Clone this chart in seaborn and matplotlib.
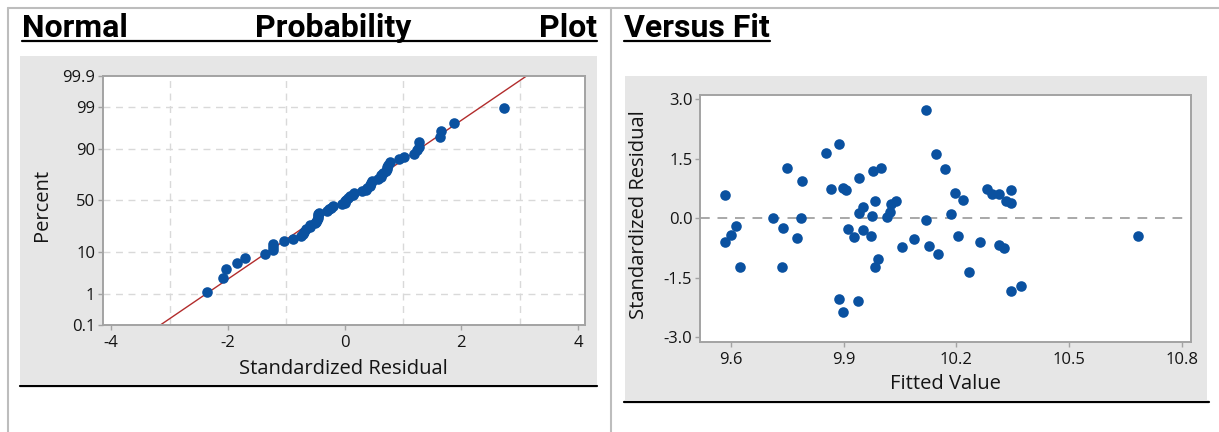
from statistics import NormalDist
import numpy as np
import pandas as pd
import matplotlib
matplotlib.use("Agg")
import matplotlib.pyplot as plt
from matplotlib.lines import Line2D
from matplotlib.patches import Rectangle
import seaborn as sns

fitted = [9.585, 9.585, 9.600, 9.615, 9.624, 9.711, 9.740, 9.750, 9.737, 9.775,
          9.788, 9.789, 9.854, 9.868, 9.888, 9.898, 9.907, 9.889, 9.898, 9.913,
          9.927, 9.939, 9.942, 9.942, 9.951, 9.951, 9.976, 9.974, 9.978, 10.001,
          9.985, 9.985, 9.992, 10.015, 10.024, 10.027, 10.039, 10.056, 10.088, 10.119,
          10.119, 10.127, 10.145, 10.152, 10.171, 10.185, 10.196, 10.204, 10.219, 10.234,
          10.263, 10.281, 10.296, 10.315, 10.314, 10.327, 10.333, 10.347, 10.347, 10.346,
          10.373, 10.685]
resid = [0.58, -0.60, -0.43, -0.19, -1.23, 0.00, -0.24, 1.28, -1.23, -0.49,
         0.00, 0.94, 1.65, 0.73, 1.87, 0.77, 0.72, -2.03, -2.36, -0.26,
         -0.47, -2.09, 1.02, 0.14, 0.29, -0.30, 0.05, -0.45, 1.19, 1.28,
         0.44, -1.23, -1.03, 0.03, 0.16, 0.37, 0.45, -0.71, -0.51, 2.74,
         -0.05, -0.70, 1.63, -0.89, 1.24, 0.10, 0.65, -0.45, 0.47, -1.36,
         -0.60, 0.74, 0.62, 0.62, -0.66, -0.74, 0.43, 0.71, 0.39, -1.84,
         -1.70, -0.45]

pct_ticks = [0.1, 1, 10, 50, 90, 99, 99.9]
pct_labels = ["0.1", "1", "10", "50", "90", "99", "99.9"]
x_ticks_left = [-4, -2, 0, 2, 4]
x_ticks_right = [9.6, 9.9, 10.2, 10.5, 10.8]
y_ticks_right = [-3.0, -1.5, 0.0, 1.5, 3.0]

W, H = 1219, 432
BLUE = "#0a51a0"
PANEL = "#e6e6e6"
SPINE = "#a3a3a3"
TICKC = "#141414"

sns.set_theme(style="white")
plt.rcParams["font.family"] = ["Open Sans", "DejaVu Sans"]
plt.rcParams["axes.unicode_minus"] = False

fig = plt.figure(figsize=(W / 100, H / 100), dpi=100)
fig.patch.set_facecolor("white")


def box(x0, y0, x1, y1):
    # pixel box (top-left origin) -> figure fraction rect
    return [x0 / W, 1 - y1 / H, (x1 - x0) / W, (y1 - y0) / H]


def hline(x0, x1, y, color, lw):
    fig.add_artist(Line2D([x0 / W, x1 / W], [1 - y / H, 1 - y / H],
                          transform=fig.transFigure, color=color, lw=lw))


def vline(x, y0, y1, color, lw):
    fig.add_artist(Line2D([x / W, x / W], [1 - y0 / H, 1 - y1 / H],
                          transform=fig.transFigure, color=color, lw=lw))


# table borders of the document
hline(8, W, 8, "#bdbdbd", 1.5)
vline(8, 8, H, "#bdbdbd", 1.5)
vline(611, 8, H, "#bdbdbd", 1.5)

# grey graph panels
for x0, y0, x1, y1 in [(20, 56, 597, 384), (625, 76, 1207, 400)]:
    fig.add_artist(Rectangle((x0 / W, 1 - y1 / H), (x1 - x0) / W, (y1 - y0) / H,
                             transform=fig.transFigure, facecolor=PANEL,
                             edgecolor="none", zorder=0))
hline(20, 597, 385.5, "black", 1.6)
hline(624, 1209, 402, "black", 1.6)

# headings
head = dict(fontsize=23, fontweight="bold", family="Roboto", color="black", va="baseline")
fig.text(22 / W, 1 - 37 / H, "Normal", ha="left", **head)
fig.text(333 / W, 1 - 37 / H, "Probability", ha="center", **head)
fig.text(597 / W, 1 - 37 / H, "Plot", ha="right", **head)
t_vf = fig.text(624 / W, 1 - 37 / H, "Versus Fit", ha="left", **head)
hline(22, 597, 41, "black", 1.6)

# ---- Normal probability plot ----
ax1 = fig.add_axes(box(103, 75.7, 585, 325))
ax1.set_facecolor("white")
nd = NormalDist()
df = pd.DataFrame({"resid": sorted(resid)})
n = len(df)
df["z"] = [nd.inv_cdf((i + 1 - 0.3) / (n + 0.4)) for i in range(n)]

mu, sd = float(np.mean(resid)), float(np.std(resid, ddof=1))
ax1.axline((mu, 0), slope=1 / sd, color="#b22c2c", lw=1.0, zorder=2)
sns.scatterplot(data=df, x="resid", y="z", ax=ax1, color=BLUE, s=58,
                linewidth=0, marker="o", zorder=3)

ax1.set_xlim(-4.14, 4.12)
ax1.set_ylim(nd.inv_cdf(0.001), nd.inv_cdf(0.999))
ax1.set_xticks(x_ticks_left)
ax1.set_xticks(range(-4, 5), minor=True)
z_ticks = [nd.inv_cdf(p / 100) for p in pct_ticks]
ax1.set_yticks(z_ticks)
ax1.set_yticklabels(pct_labels)
ax1.grid(True, which="minor", axis="x", ls=(0, (5, 4)), color="#d9d9d9", lw=1)
for zt in z_ticks[1:-1]:
    ax1.axhline(zt, ls=(0, (5, 4)), color="#d9d9d9", lw=1, zorder=1)
ax1.set_xlabel("Standardized Residual", fontsize=14.5, color=TICKC, va="center")
ax1.set_ylabel("Percent", fontsize=14.5, color=TICKC, va="center")
ax1.xaxis.set_label_coords((343 - 103) / 482, -(369 - 325) / 249.3)
ax1.yaxis.set_label_coords(-(103 - 42) / 482, (325 - 205) / 249.3)

# ---- Versus fits ----
ax2 = fig.add_axes(box(700, 95, 1191, 341.7))
ax2.set_facecolor("white")
ax2.axhline(0, ls=(0, (5, 4)), color="#a8a8a8", lw=1.4, zorder=1)
sns.scatterplot(x=fitted, y=resid, ax=ax2, color=BLUE, s=58, linewidth=0,
                marker="o", zorder=3)
ax2.set_xlim(9.518, 10.825)
ax2.set_ylim(-3.11, 3.11)
ax2.set_xticks(x_ticks_right)
ax2.set_xticklabels([f"{v:.1f}" for v in x_ticks_right])
ax2.set_yticks(y_ticks_right)
ax2.set_yticklabels([f"{v:.1f}" for v in y_ticks_right])
ax2.set_xlabel("Fitted Value", fontsize=14.5, color=TICKC, va="center")
ax2.set_ylabel("Standardized Residual", fontsize=14.5, color=TICKC, va="center")
ax2.xaxis.set_label_coords((945 - 700) / 491, -(384 - 341.7) / 246.7)
ax2.yaxis.set_label_coords(-(700 - 639) / 491, (341.7 - 215) / 246.7)

for ax in (ax1, ax2):
    for sp in ax.spines.values():
        sp.set_color(SPINE)
        sp.set_linewidth(1.4)
    ax.tick_params(axis="both", which="major", direction="out", length=3.5,
                   width=1, color=SPINE, labelsize=12, labelcolor=TICKC, pad=2,
                   bottom=True, left=True)
    ax.tick_params(axis="x", which="major", pad=4)
    ax.tick_params(which="minor", length=0)

# underline for "Versus Fit" matching its rendered width
fig.canvas.draw()
bb = t_vf.get_window_extent()
hline(bb.x0, bb.x1, 41, "black", 1.6)

fig.savefig("out.png", dpi=100, facecolor="white")
